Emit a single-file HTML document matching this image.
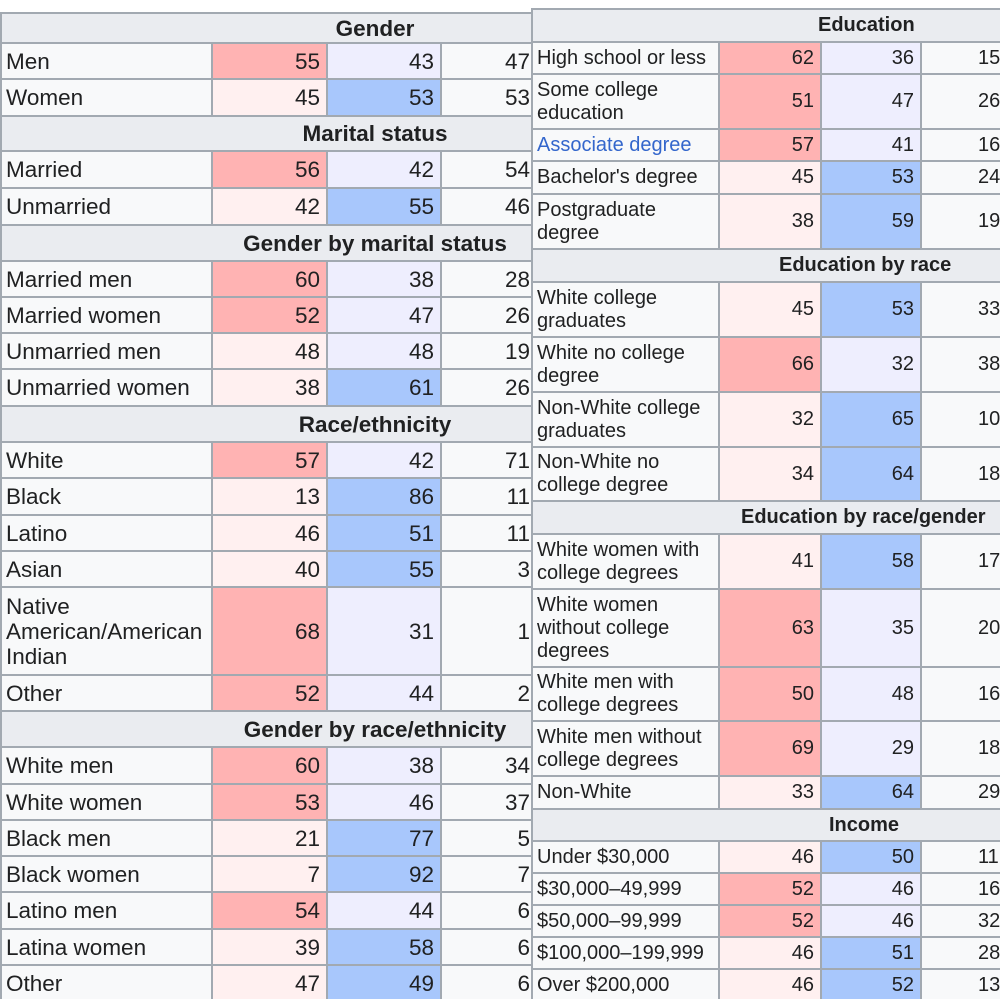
<!DOCTYPE html>
<html><head><meta charset="utf-8"><style>
html,body{margin:0;padding:0;background:#fff;width:1000px;height:999px;overflow:hidden;position:relative}
table{position:absolute;border-collapse:collapse;table-layout:fixed;font-family:"Liberation Sans",Arial,sans-serif;font-size:20px;color:#202122}
td,th{border:2px solid #a2a9b1;padding:0 4px;background:#f8f9fa;line-height:23px;overflow:hidden;white-space:normal}
th{background:#eaecf0;font-weight:bold;text-align:center}
td.n{text-align:right;padding-right:6px}
td.R{background:#ffb3b3}td.r{background:#fff0f0}
td.B{background:#a8c7fc}td.b{background:#eeeefe}
td.w{background:#f8f9fa;padding-right:2px}
a{color:#3366cc;text-decoration:none}
#L{left:0;top:12px;width:532px;font-size:22.5px}
#L td{line-height:25px}
#L th{padding-left:216px;padding-right:0}
#Rt{left:531px;top:8px;width:490px}
</style></head><body>
<table id="L">
<colgroup><col style="width:211px"><col style="width:115px"><col style="width:114px"><col style="width:92px"></colgroup>
<tr style="height:30px"><th colspan="4">Gender</th></tr>
<tr style="height:36px"><td>Men</td><td class="n R">55</td><td class="n b">43</td><td class="n w">47</td></tr>
<tr style="height:37px"><td>Women</td><td class="n r">45</td><td class="n B">53</td><td class="n w">53</td></tr>
<tr style="height:35px"><th colspan="4">Marital status</th></tr>
<tr style="height:37px"><td>Married</td><td class="n R">56</td><td class="n b">42</td><td class="n w">54</td></tr>
<tr style="height:37px"><td>Unmarried</td><td class="n r">42</td><td class="n B">55</td><td class="n w">46</td></tr>
<tr style="height:36px"><th colspan="4">Gender by marital status</th></tr>
<tr style="height:36px"><td>Married men</td><td class="n R">60</td><td class="n b">38</td><td class="n w">28</td></tr>
<tr style="height:36px"><td>Married women</td><td class="n R">52</td><td class="n b">47</td><td class="n w">26</td></tr>
<tr style="height:36px"><td>Unmarried men</td><td class="n r">48</td><td class="n b">48</td><td class="n w">19</td></tr>
<tr style="height:37px"><td>Unmarried women</td><td class="n r">38</td><td class="n B">61</td><td class="n w">26</td></tr>
<tr style="height:36px"><th colspan="4">Race/ethnicity</th></tr>
<tr style="height:36px"><td>White</td><td class="n R">57</td><td class="n b">42</td><td class="n w">71</td></tr>
<tr style="height:37px"><td>Black</td><td class="n r">13</td><td class="n B">86</td><td class="n w">11</td></tr>
<tr style="height:36px"><td>Latino</td><td class="n r">46</td><td class="n B">51</td><td class="n w">11</td></tr>
<tr style="height:36px"><td>Asian</td><td class="n r">40</td><td class="n B">55</td><td class="n w">3</td></tr>
<tr style="height:88px"><td>Native American/American Indian</td><td class="n R">68</td><td class="n b">31</td><td class="n w">1</td></tr>
<tr style="height:36px"><td>Other</td><td class="n R">52</td><td class="n b">44</td><td class="n w">2</td></tr>
<tr style="height:36px"><th colspan="4">Gender by race/ethnicity</th></tr>
<tr style="height:37px"><td>White men</td><td class="n R">60</td><td class="n b">38</td><td class="n w">34</td></tr>
<tr style="height:36px"><td>White women</td><td class="n R">53</td><td class="n b">46</td><td class="n w">37</td></tr>
<tr style="height:36px"><td>Black men</td><td class="n r">21</td><td class="n B">77</td><td class="n w">5</td></tr>
<tr style="height:36px"><td>Black women</td><td class="n r">7</td><td class="n B">92</td><td class="n w">7</td></tr>
<tr style="height:37px"><td>Latino men</td><td class="n R">54</td><td class="n b">44</td><td class="n w">6</td></tr>
<tr style="height:36px"><td>Latina women</td><td class="n r">39</td><td class="n B">58</td><td class="n w">6</td></tr>
<tr style="height:36px"><td>Other</td><td class="n r">47</td><td class="n B">49</td><td class="n w">6</td></tr>
</table>
<table id="Rt">
<colgroup><col style="width:187px"><col style="width:102px"><col style="width:100px"><col style="width:101px"></colgroup>
<tr style="height:33px"><th colspan="4" style="text-align:left;padding-left:285px">Education</th></tr>
<tr style="height:32px"><td>High school or less</td><td class="n R">62</td><td class="n b">36</td><td class="n w" style="text-align:left;padding-left:56px">15</td></tr>
<tr style="height:55px"><td>Some college education</td><td class="n R">51</td><td class="n b">47</td><td class="n w" style="text-align:left;padding-left:56px">26</td></tr>
<tr style="height:32px"><td><a>Associate degree</a></td><td class="n R">57</td><td class="n b">41</td><td class="n w" style="text-align:left;padding-left:56px">16</td></tr>
<tr style="height:33px"><td>Bachelor's degree</td><td class="n r">45</td><td class="n B">53</td><td class="n w" style="text-align:left;padding-left:56px">24</td></tr>
<tr style="height:55px"><td>Postgraduate degree</td><td class="n r">38</td><td class="n B">59</td><td class="n w" style="text-align:left;padding-left:56px">19</td></tr>
<tr style="height:33px"><th colspan="4" style="text-align:left;padding-left:246px">Education by race</th></tr>
<tr style="height:55px"><td>White college graduates</td><td class="n r">45</td><td class="n B">53</td><td class="n w" style="text-align:left;padding-left:56px">33</td></tr>
<tr style="height:55px"><td>White no college degree</td><td class="n R">66</td><td class="n b">32</td><td class="n w" style="text-align:left;padding-left:56px">38</td></tr>
<tr style="height:55px"><td>Non-White college graduates</td><td class="n r">32</td><td class="n B">65</td><td class="n w" style="text-align:left;padding-left:56px">10</td></tr>
<tr style="height:54px"><td>Non-White no college degree</td><td class="n r">34</td><td class="n B">64</td><td class="n w" style="text-align:left;padding-left:56px">18</td></tr>
<tr style="height:33px"><th colspan="4" style="text-align:left;padding-left:208px">Education by race/gender</th></tr>
<tr style="height:55px"><td>White women with college degrees</td><td class="n r">41</td><td class="n B">58</td><td class="n w" style="text-align:left;padding-left:56px">17</td></tr>
<tr style="height:78px"><td>White women without college degrees</td><td class="n R">63</td><td class="n b">35</td><td class="n w" style="text-align:left;padding-left:56px">20</td></tr>
<tr style="height:54px"><td>White men with college degrees</td><td class="n R">50</td><td class="n b">48</td><td class="n w" style="text-align:left;padding-left:56px">16</td></tr>
<tr style="height:55px"><td>White men without college degrees</td><td class="n R">69</td><td class="n b">29</td><td class="n w" style="text-align:left;padding-left:56px">18</td></tr>
<tr style="height:33px"><td>Non-White</td><td class="n r">33</td><td class="n B">64</td><td class="n w" style="text-align:left;padding-left:56px">29</td></tr>
<tr style="height:32px"><th colspan="4" style="text-align:left;padding-left:296px">Income</th></tr>
<tr style="height:32px"><td>Under $30,000</td><td class="n r">46</td><td class="n B">50</td><td class="n w" style="text-align:left;padding-left:56px">11</td></tr>
<tr style="height:32px"><td>$30,000–49,999</td><td class="n R">52</td><td class="n b">46</td><td class="n w" style="text-align:left;padding-left:56px">16</td></tr>
<tr style="height:32px"><td>$50,000–99,999</td><td class="n R">52</td><td class="n b">46</td><td class="n w" style="text-align:left;padding-left:56px">32</td></tr>
<tr style="height:32px"><td>$100,000–199,999</td><td class="n r">46</td><td class="n B">51</td><td class="n w" style="text-align:left;padding-left:56px">28</td></tr>
<tr style="height:32px"><td>Over $200,000</td><td class="n r">46</td><td class="n B">52</td><td class="n w" style="text-align:left;padding-left:56px">13</td></tr>
</table>
</body></html>
